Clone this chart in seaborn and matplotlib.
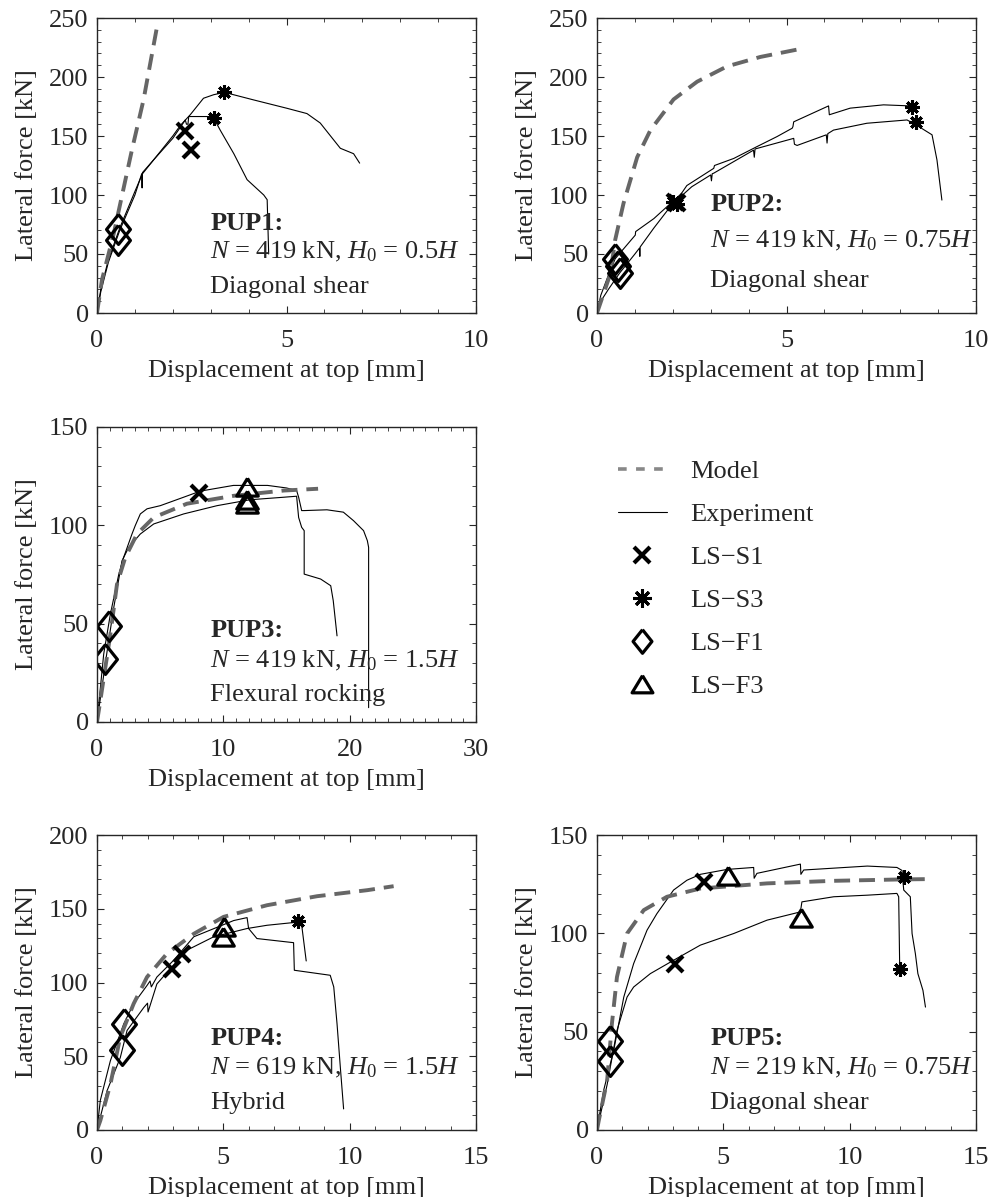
import numpy as np
import pandas as pd
import matplotlib
matplotlib.use("Agg")
import matplotlib.pyplot as plt
from matplotlib.lines import Line2D
import seaborn as sns

sns.set_style("ticks")
plt.rcParams["font.family"] = ["Liberation Serif", "DejaVu Serif"]
plt.rcParams["mathtext.fontset"] = "custom"
plt.rcParams["mathtext.rm"] = "Liberation Serif"
plt.rcParams["mathtext.it"] = "Liberation Serif:italic"
plt.rcParams["mathtext.bf"] = "Liberation Serif:bold"
FS = 19

# ---------------- PUP1 ----------------
model1_x = [0, 0.13, 0.44, 0.92, 1.23, 1.58]
model1_y = [0, 28, 67, 138, 181, 242]
exp1a_x = [0, 0.1, 0.3, 0.6, 1.0, 1.2, 1.5, 2.0, 2.2, 2.46, 2.81, 3.08, 3.36, 4.13, 5.01, 5.54, 5.89, 6.42, 6.77, 6.93]
exp1a_y = [0, 20, 45, 72, 103, 118, 130, 150, 159, 168, 182, 185, 187, 180.6, 173.5, 169, 161, 139.6, 135, 127]
exp1b_x = [0, 0.1, 0.3, 0.6, 1.0, 1.18, 1.19, 1.2, 1.5, 2.0, 2.33, 2.36, 2.4, 2.42, 3.05, 3.1, 3.25, 3.61, 3.96, 4.40, 4.49, 4.53]
exp1b_y = [0, 18, 43, 70, 100, 118, 106, 119, 130, 148, 163.6, 160, 160, 166.5, 166.5, 164, 155, 135, 113, 100, 96, 50]
s1_1 = ([2.33, 2.48], [154, 138])
s3_1 = ([3.1, 3.36], [165, 187])
f1_1 = ([0.55, 0.55], [71, 62])
f3_1 = ([], [])

# ---------------- PUP2 ----------------
model2_x = [0, 0.35, 0.48, 0.70, 1.06, 1.41, 2.02, 2.64, 3.43, 4.31, 5.4]
model2_y = [0, 33, 62, 93, 132, 155, 181, 196, 209, 217, 224]
exp2a_x = [0, 0.1, 0.3, 0.48, 1.01, 1.02, 1.5, 1.98, 2.2, 2.37, 3.08, 3.1, 3.61, 4.22, 4.75, 5.15, 5.17, 5.19, 6.11, 6.13, 6.68, 7.56, 8.27, 8.31]
exp2a_y = [0, 15, 32, 46, 66, 69, 80, 94, 100, 108, 122.6, 125, 131, 141, 149.5, 156.6, 158, 162, 175.5, 168, 173.6, 176.4, 175.5, 175]
exp2b_x = [0, 0.1, 0.3, 0.6, 1.0, 1.12, 1.13, 1.14, 1.5, 1.98, 2.5, 3.0, 3.02, 3.04, 3.08, 4.13, 4.15, 4.17, 5.19, 5.21, 5.28, 6.05, 6.07, 6.09, 6.24, 7.12, 8.18, 8.44, 8.84, 8.97, 9.1]
exp2b_y = [0, 10, 20, 34, 50, 55, 48, 56, 72, 92, 107, 117, 112, 118, 118.5, 138, 132, 139, 148, 143, 142, 151, 144, 152, 155, 160.8, 163.6, 159, 151, 129.7, 95.7]
s1_2 = ([2.05, 2.12], [94, 93])
s3_2 = ([2.0, 2.1, 8.31, 8.43], [94, 92, 175, 162])
f1_2 = ([0.48, 0.55, 0.62], [46, 40, 34])
f3_2 = ([], [])

# ---------------- PUP3 ----------------
model3_x = [0, 0.26, 1.06, 1.58, 2.24, 3.17, 4.49, 7.12, 10.8, 14.8, 17.5]
model3_y = [0, 10.7, 44.7, 70, 83.7, 95.6, 104, 111, 115, 117.7, 118.6]
exp3a_x = [0, 0.53, 1.06, 1.72, 2.11, 2.77, 3.03, 3.43, 3.96, 5.01, 6.86, 8.18, 10.8, 13.5, 15.0, 15.8, 15.96, 16.2, 16.4, 18.2, 19.5, 20.3, 21.1, 21.4, 21.5, 21.5]
exp3a_y = [0, 34.5, 54.9, 75, 83.7, 95.6, 99.9, 105.8, 108.4, 110, 114.3, 117.4, 120.3, 120.3, 119, 117.7, 114.3, 107.5, 107.5, 107.9, 106.7, 102.4, 97.3, 92.2, 88.8, 7.3]
exp3b_x = [0, 0.8, 1.32, 1.98, 2.51, 3.43, 4.49, 6.86, 9.5, 12.1, 14.8, 15.8, 15.96, 16.2, 16.4, 16.4, 17.7, 18.5, 18.7, 19.0]
exp3b_y = [0, 36, 58, 82, 88.8, 95.6, 100.7, 105.8, 110, 113, 114.3, 114.8, 104, 99, 97.3, 75.2, 72.7, 69.3, 61.7, 43.8]
s1_3 = ([8.1], [116.4])
s3_3 = ([], [])
f1_3 = ([0.92, 0.66], [48.6, 32])
f3_3 = ([11.87, 11.87, 11.87], [119.5, 113, 111])

# ---------------- PUP4 ----------------
model4_x = [0, 0.13, 0.53, 0.92, 1.45, 1.98, 2.77, 3.83, 5.01, 6.73, 8.71, 10.7, 11.74]
model4_y = [0, 6.3, 31, 63, 85.6, 103.7, 119.6, 133, 144.5, 152.4, 158.5, 162.6, 165.3]
exp4a_x = [0, 0.13, 0.53, 1.06, 1.45, 1.98, 2.1, 2.15, 2.37, 3.03, 3.83, 5.41, 5.94, 6.0, 6.33, 7.78, 7.81, 9.23, 9.37, 9.5, 9.63, 9.76]
exp4a_y = [0, 20, 47, 72, 85.6, 98, 101, 97, 103.7, 115, 131, 142, 144, 136.6, 129.8, 127, 108.3, 104.9, 97, 72, 42.6, 14.3]
exp4b_x = [0, 0.4, 0.92, 1.19, 1.85, 2.0, 2.02, 2.37, 2.9, 3.56, 4.62, 5.94, 6.73, 7.98, 8.11, 8.28]
exp4b_y = [0, 26.7, 49, 67.5, 83, 86, 80, 99, 109.4, 121.9, 131, 136.6, 138.8, 141, 137.7, 114.6]
s1_4 = ([2.97, 3.36], [109.4, 119.6])
s3_4 = ([7.95], [141.6])
f1_4 = ([1.06, 0.99], [72, 54.4])
f3_4 = ([5.01, 4.99], [137.7, 131])

# ---------------- PUP5 ----------------
model5_x = [0, 0.07, 0.4, 0.59, 0.79, 1.19, 1.85, 2.77, 4.09, 6.73, 9.37, 12.0, 13.26]
model5_y = [0, 4.8, 25, 54, 77.8, 99.9, 111.8, 118.6, 122.8, 125.4, 126.7, 127.4, 127.6]
exp5a_x = [0, 0.26, 0.66, 1.06, 1.45, 1.98, 2.37, 3.03, 3.56, 4.09, 5.15, 6.2, 6.22, 6.33, 8.05, 8.07, 8.18, 10.7, 11.87, 12.07, 12.14, 12.4, 12.47, 12.6, 12.7, 12.9, 13.0]
exp5a_y = [0, 20, 40.4, 67.6, 84.6, 101.6, 110, 122, 127, 130, 132.5, 133.5, 128, 130.5, 135.2, 130, 132.2, 134.2, 133.5, 132, 122, 118.6, 99.9, 89.7, 79.5, 71, 62.5]
exp5b_x = [0, 0.4, 0.79, 1.19, 1.45, 2.11, 3.03, 4.09, 5.41, 6.73, 8.05, 8.11, 9.37, 10.7, 11.87, 11.94, 11.98]
exp5b_y = [0, 23, 50.6, 67.6, 72.7, 79.5, 86.3, 94, 99.9, 106.7, 110.9, 116, 118.6, 119.4, 120.3, 118.6, 82.9]
s1_5 = ([4.25, 3.1], [126.2, 84.3])
s3_5 = ([12.16, 12.0], [128.4, 82])
f1_5 = ([0.53, 0.53], [45.2, 35.3])
f3_5 = ([5.17, 8.09], [129.1, 108])

# panel text
names = ["PUP1:", "PUP2:", "PUP3:", "PUP4:", "PUP5:"]
loads = ["419", "419", "419", "619", "219"]
heights = ["0.5", "0.75", "1.5", "1.5", "0.75"]
modes = ["Diagonal shear", "Diagonal shear", "Flexural rocking", "Hybrid", "Diagonal shear"]
xmax = [10, 10, 30, 15, 15]
ymax = [250, 250, 150, 200, 150]
xmajor = [5, 5, 10, 5, 5]
ymajor = [50, 50, 50, 50, 50]
text_y = [(0.283, 0.185, 0.068), (0.347, 0.224, 0.088), (0.2865, 0.185, 0.071),
          (0.2865, 0.19, 0.071), (0.2865, 0.19, 0.071)]

panels = [
    (model1_x, model1_y, [(exp1a_x, exp1a_y), (exp1b_x, exp1b_y)], s1_1, s3_1, f1_1, f3_1),
    (model2_x, model2_y, [(exp2a_x, exp2a_y), (exp2b_x, exp2b_y)], s1_2, s3_2, f1_2, f3_2),
    (model3_x, model3_y, [(exp3a_x, exp3a_y), (exp3b_x, exp3b_y)], s1_3, s3_3, f1_3, f3_3),
    (model4_x, model4_y, [(exp4a_x, exp4a_y), (exp4b_x, exp4b_y)], s1_4, s3_4, f1_4, f3_4),
    (model5_x, model5_y, [(exp5a_x, exp5a_y), (exp5b_x, exp5b_y)], s1_5, s3_5, f1_5, f3_5),
]

W, H = 991, 1197
positions = [(97, 18), (597, 18), (97, 427), (97, 835), (597, 835)]
aw, ah = 379, 295

# MATLAB-like marker shapes: tall diamond, wide triangle
diamond = [(0, 1.25), (1, 0), (0, -1.25), (-1, 0), (0, 1.25)]
triangle = [(0, 0.85), (-1, -0.8), (1, -0.8), (0, 0.85)]

MODEL_KW = dict(color="#666666", lw=2.8, dashes=(4.1, 2.3))
EXP_KW = dict(color="black", lw=0.8)
S1_KW = dict(marker="x", ms=12, mew=3.0, color="black", ls="none")
S3_KW = dict(marker=(8, 2, 0), ms=10.5, mew=2.2, color="black", ls="none")
F1_KW = dict(marker=diamond, ms=21.5, mew=2.3, mfc="none", mec="black", ls="none")
F3_KW = dict(marker=triangle, ms=15.5, mew=2.3, mfc="none", mec="black", ls="none")

fig = plt.figure(figsize=(W / 100, H / 100), dpi=100)

for i, (mx, my, exps, s1, s3, f1, f3) in enumerate(panels):
    px, py = positions[i]
    ax = fig.add_axes([px / W, 1 - (py + ah) / H, aw / W, ah / H])
    for ex, ey in exps:
        df = pd.DataFrame({"x": ex, "y": ey})
        sns.lineplot(data=df, x="x", y="y", ax=ax, sort=False, estimator=None, **EXP_KW)
    dfm = pd.DataFrame({"x": mx, "y": my})
    sns.lineplot(data=dfm, x="x", y="y", ax=ax, sort=False, estimator=None, **MODEL_KW)
    ax.plot(f1[0], f1[1], **F1_KW)
    ax.plot(f3[0], f3[1], **F3_KW)
    ax.plot(s1[0], s1[1], **S1_KW)
    ax.plot(s3[0], s3[1], **S3_KW)

    ax.set_xlim(0, xmax[i])
    ax.set_ylim(0, ymax[i])
    ax.set_xticks(np.arange(0, xmax[i] + 0.1, xmajor[i]))
    ax.set_yticks(np.arange(0, ymax[i] + 0.1, ymajor[i]))
    ax.set_xticks(np.arange(0, xmax[i] + 0.1, 1), minor=True)
    ax.set_yticks(np.arange(0, ymax[i] + 0.1, 10), minor=True)
    ax.tick_params(which="both", direction="in", top=True, right=True, labelsize=FS)
    ax.tick_params(axis="x", which="major", pad=12)
    ax.tick_params(axis="y", which="major", pad=6)
    ax.tick_params(which="major", length=5, width=0.8)
    ax.tick_params(which="minor", length=3, width=0.6)
    for sp in ax.spines.values():
        sp.set_linewidth(1.0)
    ax.set_xlabel("Displacement at top [mm]", fontsize=FS, labelpad=6)
    ax.set_ylabel("Lateral force [kN]", fontsize=FS, labelpad=8)

    ty = text_y[i]
    ax.text(0.299, ty[0], names[i], transform=ax.transAxes, fontsize=FS, fontweight="bold", va="baseline")
    ax.text(0.299, ty[1], r"$N$ = %s kN, $H_{\mathit{0}}$ = %s$H$" % (loads[i], heights[i]),
            transform=ax.transAxes, fontsize=FS, va="baseline")
    ax.text(0.299, ty[2], modes[i], transform=ax.transAxes, fontsize=FS, va="baseline")

handles = [
    Line2D([], [], color="#888888", lw=2.6, dashes=(2.4, 2.6)),
    Line2D([], [], **EXP_KW),
    Line2D([], [], **dict(S1_KW, ms=11)),
    Line2D([], [], **dict(S3_KW, ms=13)),
    Line2D([], [], **dict(F1_KW, ms=17)),
    Line2D([], [], **dict(F3_KW, ms=15)),
]
labels = ["Model", "Experiment", "LS\u2212S1", "LS\u2212S3", "LS\u2212F1", "LS\u2212F3"]
fig.legend(handles, labels, loc="upper left", bbox_to_anchor=(618 / W, 1 - 460 / H),
           frameon=False, fontsize=FS, handlelength=1.85, handletextpad=0.87,
           labelspacing=0.74, borderpad=0, borderaxespad=0)

fig.savefig("out.png", dpi=100)
